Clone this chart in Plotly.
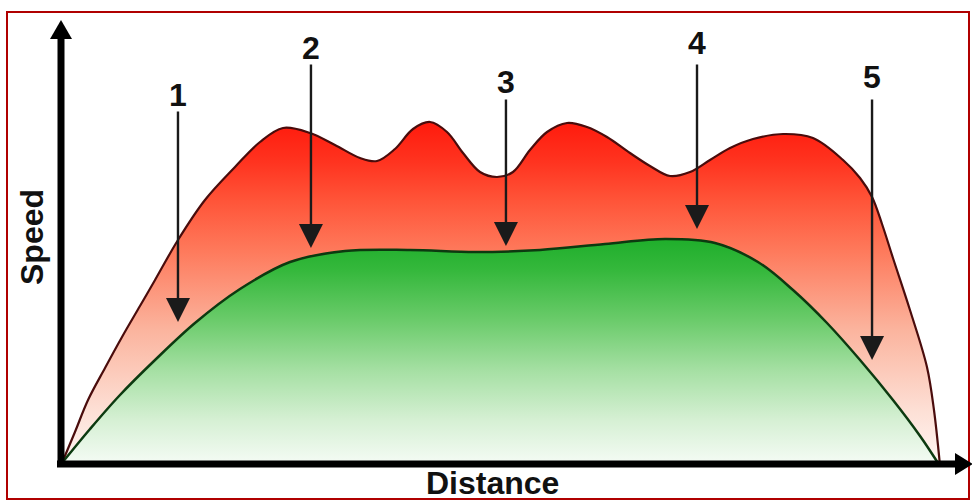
import plotly.graph_objects as go

# ---- data (distance 0-100, speed in arbitrary units) ----
red_distance = [0, 1.48, 2.97, 4.91, 6.85, 8.90, 10.62, 13.24, 16.32, 19.75, 22.60, 25.23,
                28.31, 31.16, 34.02, 35.96, 38.01, 40.07, 42.01, 43.95, 45.78, 47.72, 49.66,
                51.48, 53.42, 55.37, 57.65, 59.93, 62.21, 64.84, 67.12, 69.41, 71.69, 73.97,
                76.26, 78.88, 82.31, 85.73, 89.16, 91.10, 92.47, 93.61, 94.86, 96.80, 98.74,
                99.54, 100.2]
red_speed = [0, 7.75, 15.75, 23.75, 31.5, 39.25, 45.75, 55.75, 65.75, 74.0, 80.25, 83.75,
             82.5, 79.5, 76.25, 75.5, 78.5, 83.5, 85.25, 82.75, 77.5, 72.75, 71.5,
             72.75, 78.25, 82.75, 85.0, 84.0, 81.5, 77.5, 74.25, 71.75, 72.75, 75.75,
             78.75, 81.0, 82.25, 81.25, 75.75, 71.25, 66.5, 59.75, 51.25, 38.25, 24.0,
             13.25, 0]

green_distance = [0, 3.20, 6.62, 10.62, 15.18, 20.32, 26.03, 32.31, 39.73, 47.15, 54.57,
                  61.99, 68.84, 74.54, 79.45, 83.45, 87.33, 91.10, 94.86, 97.95, 100]
green_speed = [0, 8.5, 17.0, 25.75, 35.0, 43.5, 50.25, 53.0, 53.25, 52.75, 53.25,
               54.75, 56.0, 55.0, 50.25, 43.25, 35.0, 25.75, 15.75, 6.75, 0]

marker_labels = ["1", "2", "3", "4", "5"]
marker_distance = [13.24, 28.42, 50.68, 72.49, 92.47]
marker_tail_speed = [88.25, 100.0, 91.25, 100.0, 91.25]
marker_tip_speed = [35.25, 53.75, 54.25, 58.5, 25.75]
marker_label_speed = [92.0, 103.75, 95.25, 105.0, 96.5]

x_title = "Distance"
y_title = "Speed"

# ---- pixel helpers for decorations (plot area covers whole figure) ----
PX_X0, PX_PER_D = 62.0, 8.76
PX_Y0, PX_PER_S = 463.0, 4.0
W, H = 972, 500


def dx(px):
    return (px - PX_X0) / PX_PER_D


def sy(py):
    return (PX_Y0 - py) / PX_PER_S


FONT = "Liberation Sans, Arial, sans-serif"

fig = go.Figure()

fig.add_trace(go.Scatter(
    x=red_distance, y=red_speed, mode="lines",
    line=dict(color="#4a0c0c", width=2.2, shape="spline", smoothing=1.0),
    fill="tozeroy",
    fillgradient=dict(type="vertical", colorscale=[
        [0.0, "#fff6f3"], [0.15, "#fde0d6"], [0.39, "#fbb49e"],
        [0.62, "#fe7a5c"], [0.77, "#ff5438"], [0.88, "#ff3420"], [1.0, "#ff1a0c"]]),
    hoverinfo="skip", showlegend=False))

fig.add_trace(go.Scatter(
    x=green_distance, y=green_speed, mode="lines",
    line=dict(color="#0c3a10", width=2.5, shape="spline", smoothing=1.0),
    fill="tozeroy",
    fillgradient=dict(type="vertical", colorscale=[
        [0.0, "#f4fbf4"], [0.19, "#d6f0d4"], [0.41, "#a6e0a4"],
        [0.64, "#6acb6a"], [0.86, "#35b83c"], [1.0, "#1fae2b"]]),
    hoverinfo="skip", showlegend=False))

shapes = []
# frame
shapes.append(dict(type="rect", xref="x", yref="y",
                   x0=dx(7), x1=dx(969), y0=sy(12), y1=sy(499),
                   line=dict(color="#b00000", width=2), layer="above"))
# y axis
shapes.append(dict(type="line", xref="x", yref="y", x0=dx(61), x1=dx(61),
                   y0=sy(467), y1=sy(34), line=dict(color="black", width=7)))
shapes.append(dict(type="path", xref="x", yref="y",
                   path=f"M {dx(61)},{sy(20)} L {dx(50)},{sy(39)} L {dx(72)},{sy(39)} Z",
                   fillcolor="black", line=dict(color="black", width=0)))
# x axis
shapes.append(dict(type="line", xref="x", yref="y", x0=dx(57), x1=dx(958),
                   y0=sy(464), y1=sy(464), line=dict(color="black", width=7)))
shapes.append(dict(type="path", xref="x", yref="y",
                   path=f"M {dx(973)},{sy(464)} L {dx(955)},{sy(453)} L {dx(955)},{sy(475)} Z",
                   fillcolor="black", line=dict(color="black", width=0)))

annotations = []
for lab, d, st, tip, ls in zip(marker_labels, marker_distance, marker_tail_speed,
                                marker_tip_speed, marker_label_speed):
    annotations.append(dict(x=d, y=tip, ax=d, ay=st, xref="x", yref="y",
                            axref="x", ayref="y", text="", showarrow=True,
                            arrowhead=2, arrowsize=2.0, arrowwidth=2.4,
                            arrowcolor="#1a1a1a"))
    annotations.append(dict(x=d, y=ls, xref="x", yref="y", text=f"<b>{lab}</b>",
                            showarrow=False, font=dict(family=FONT, size=32, color="#111111"),
                            xanchor="center", yanchor="middle"))

annotations.append(dict(x=dx(492), y=sy(483), xref="x", yref="y", text=f"<b>{x_title}</b>",
                        showarrow=False, font=dict(family=FONT, size=32, color="#111111"),
                        xanchor="center", yanchor="middle"))
annotations.append(dict(x=dx(32), y=sy(237), xref="x", yref="y", text=f"<b>{y_title}</b>",
                        showarrow=False, textangle=-90,
                        font=dict(family=FONT, size=32, color="#111111"),
                        xanchor="center", yanchor="middle"))

fig.update_layout(
    width=W, height=H,
    margin=dict(l=0, r=0, t=0, b=0),
    paper_bgcolor="white", plot_bgcolor="white",
    xaxis=dict(visible=False, range=[dx(0), dx(W)], fixedrange=True),
    yaxis=dict(visible=False, range=[sy(H), sy(0)], fixedrange=True),
    shapes=shapes, annotations=annotations,
)

fig.write_html("out.html", config={"displayModeBar": False},
               post_script="document.body.style.margin='0';")
